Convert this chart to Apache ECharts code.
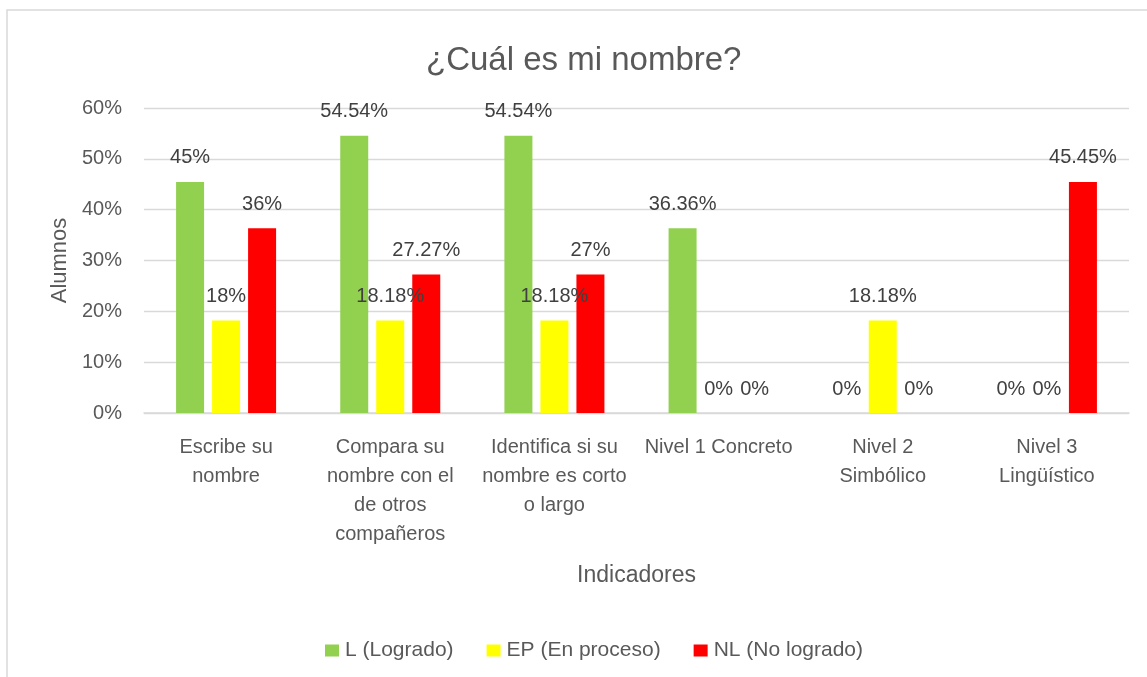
<!DOCTYPE html>
<html>
<head>
<meta charset="utf-8">
<script src="https://cdn.jsdelivr.net/npm/echarts@6/dist/echarts.min.js"></script>
<style>
html,body{margin:0;padding:0;background:#fff;}
#c{width:1147px;height:677px;}
</style>
</head>
<body>
<div id="c"></div>
<script>
var categories = ['Escribe su\nnombre', 'Compara su\nnombre con el\nde otros\ncompañeros', 'Identifica si su\nnombre es corto\no largo', 'Nivel 1 Concreto', 'Nivel 2\nSimbólico', 'Nivel 3\nLingüístico'];
var seriesNames = ['L (Logrado)', 'EP (En proceso)', 'NL (No logrado)'];
var valuesL = [45.45, 54.54, 54.54, 36.36, 0, 0];
var valuesEP = [18.18, 18.18, 18.18, 0, 18.18, 0];
var valuesNL = [36.36, 27.27, 27.27, 0, 0, 45.45];
var labelsL = ['45%', '54.54%', '54.54%', '36.36%', '0%', '0%'];
var labelsEP = ['18%', '18.18%', '18.18%', '0%', '18.18%', '0%'];
var labelsNL = ['36%', '27.27%', '27%', '0%', '0%', '45.45%'];
var yTicks = [0, 10, 20, 30, 40, 50, 60];
var colors = ['#92d050', '#ffff00', '#ff0000'];

var FONT = 'Liberation Sans';
var chart = echarts.init(document.getElementById('c'), null, {renderer: 'canvas'});

function makeSeries(name, data, labels, color) {
  return {
    name: name,
    type: 'bar',
    data: data,
    barWidth: 28,
    barGap: '28.6%',
    itemStyle: {color: color},
    label: {
      show: true,
      position: 'top',
      distance: 14,
      fontFamily: FONT,
      fontSize: 20,
      color: '#404040',
      formatter: function (p) { return labels[p.dataIndex]; }
    },
    emphasis: {disabled: true}
  };
}

chart.setOption({
  animation: false,
  backgroundColor: '#ffffff',
  graphic: [{
    type: 'rect',
    shape: {x: 7, y: 10, width: 1300, height: 800},
    style: {fill: 'none', stroke: '#d9d9d9', lineWidth: 1.5},
    silent: true,
    z: -10
  }],
  title: {
    text: '¿Cuál es mi nombre?',
    left: 421,
    top: 36,
    textStyle: {fontFamily: FONT, fontSize: 33, fontWeight: 'normal', color: '#595959', lineHeight: 40}
  },
  legend: {
    data: seriesNames,
    left: 320,
    top: 635,
    itemWidth: 14,
    itemHeight: 12,
    itemGap: 33,
    icon: 'rect',
    textStyle: {fontFamily: FONT, fontSize: 21, color: '#595959', padding: [0, 0, 0, 1]}
  },
  grid: {left: 144, right: 18, top: 108, bottom: 264, containLabel: false},
  xAxis: {
    type: 'category',
    data: categories,
    name: 'Indicadores',
    nameLocation: 'middle',
    nameGap: 151,
    nameTextStyle: {fontFamily: FONT, fontSize: 23, color: '#595959', lineHeight: 23},
    axisLine: {show: true, lineStyle: {color: '#d9d9d9', width: 1.5}},
    axisTick: {show: false},
    axisLabel: {
      interval: 0,
      margin: 20,
      fontFamily: FONT,
      fontSize: 20,
      lineHeight: 29,
      color: '#595959'
    }
  },
  yAxis: {
    type: 'value',
    min: yTicks[0],
    max: yTicks[yTicks.length - 1],
    interval: yTicks[1] - yTicks[0],
    name: 'Alumnos',
    nameLocation: 'middle',
    nameGap: 73,
    nameRotate: 90,
    nameTextStyle: {fontFamily: FONT, fontSize: 22, color: '#595959'},
    axisLine: {show: false},
    axisTick: {show: false},
    axisLabel: {margin: 22, fontFamily: FONT, fontSize: 20, color: '#595959', formatter: '{value}%'},
    splitLine: {lineStyle: {color: '#d9d9d9', width: 1.3}}
  },
  series: [
    makeSeries(seriesNames[0], valuesL, labelsL, colors[0]),
    makeSeries(seriesNames[1], valuesEP, labelsEP, colors[1]),
    makeSeries(seriesNames[2], valuesNL, labelsNL, colors[2])
  ]
});
</script>
</body>
</html>
